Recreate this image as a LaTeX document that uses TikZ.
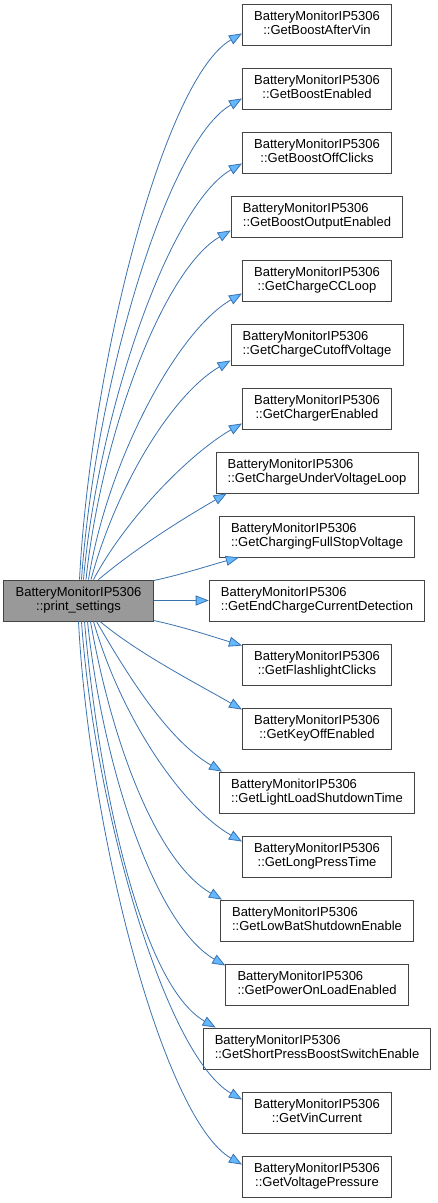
\documentclass[tikz,border=0pt]{standalone}
\usepackage{fontspec}
\setmainfont{Liberation Sans}
\usetikzlibrary{arrows.meta}
\definecolor{boxgray}{HTML}{444444}
\definecolor{srcgray}{HTML}{999999}
\definecolor{edgeblue}{HTML}{3A72B0}
\definecolor{arrowblue}{HTML}{63B8FF}
\newcommand\callee[1]{\begin{tabular}{@{}c@{}}\multicolumn{1}{@{}l@{}}{BatteryMonitorIP5306}\\#1\end{tabular}}
\tikzset{
  fnbox/.style={draw=boxgray, fill=white, line width=0.9pt, minimum height=41pt,
    minimum width=149pt, inner xsep=11.7pt, inner ysep=0pt,
    font=\fontsize{13}{14}\selectfont},
  srcbox/.style={fnbox, fill=srcgray},
  edge/.style={draw=edgeblue, line width=0.8pt,
    -{Triangle[length=13pt,width=10pt,fill=arrowblue]}}
}
\begin{document}
\begin{tikzpicture}[x=1pt,y=1pt]
\useasboundingbox (0,0) rectangle (437,-1203);
\node[srcbox] (src) at (78.5,-600.5) {\callee{::print\_settings}};
\node[fnbox] (t1) at (317,-24.5) {\callee{::GetBoostAfterVin}};
\node[fnbox] (t2) at (317,-88.5) {\callee{::GetBoostEnabled}};
\node[fnbox] (t3) at (317,-152.5) {\callee{::GetBoostOffClicks}};
\node[fnbox] (t4) at (317,-216.5) {\callee{::GetBoostOutputEnabled}};
\node[fnbox] (t5) at (317,-280.5) {\callee{::GetChargeCCLoop}};
\node[fnbox] (t6) at (317,-344.5) {\callee{::GetChargeCutoffVoltage}};
\node[fnbox] (t7) at (317,-408.5) {\callee{::GetChargerEnabled}};
\node[fnbox] (t8) at (317,-472.5) {\callee{::GetChargeUnderVoltageLoop}};
\node[fnbox] (t9) at (317,-536.5) {\callee{::GetChargingFullStopVoltage}};
\node[fnbox] (t10) at (317,-600.5) {\callee{::GetEndChargeCurrentDetection}};
\node[fnbox] (t11) at (317,-664.5) {\callee{::GetFlashlightClicks}};
\node[fnbox] (t12) at (317,-728.5) {\callee{::GetKeyOffEnabled}};
\node[fnbox] (t13) at (317,-792.5) {\callee{::GetLightLoadShutdownTime}};
\node[fnbox] (t14) at (317,-856.5) {\callee{::GetLongPressTime}};
\node[fnbox] (t15) at (317,-920.5) {\callee{::GetLowBatShutdownEnable}};
\node[fnbox] (t16) at (317,-984.5) {\callee{::GetPowerOnLoadEnabled}};
\node[fnbox] (t17) at (317,-1048.5) {\callee{::GetShortPressBoostSwitchEnable}};
\node[fnbox] (t18) at (317,-1112.5) {\callee{::GetVinCurrent}};
\node[fnbox] (t19) at (317,-1176.5) {\callee{::GetVoltagePressure}};
% upper edges
\draw[edge] ([xshift=1pt]src.north) .. controls +(87:215) and +(210:90) .. ([yshift=12pt]t1.south west);
\draw[edge] ([xshift=3pt]src.north) .. controls +(86:190) and +(210:88) .. ([yshift=11pt]t2.south west);
\draw[edge] ([xshift=5pt]src.north) .. controls +(85:165) and +(210:85) .. ([yshift=10pt]t3.south west);
\draw[edge] ([xshift=7.5pt]src.north) .. controls +(84:145) and +(210:78) .. ([yshift=7pt]t4.south west);
\draw[edge] ([xshift=10pt]src.north) .. controls +(81:120) and +(210:75) .. ([yshift=8pt]t5.south west);
\draw[edge] ([xshift=12.5pt]src.north) .. controls +(75:95) and +(210:68) .. ([yshift=5pt]t6.south west);
\draw[edge] ([xshift=15pt]src.north) .. controls +(62:70) and +(210:60) .. ([yshift=6pt]t7.south west);
\draw[edge] ([xshift=20pt]src.north) .. controls +(40:50) and +(210:50) .. ([xshift=11pt]t8.south west);
\draw[edge] ([yshift=-1pt]src.north east) .. controls +(12:30) and +(195:30) .. ([xshift=20pt]t9.south west);
\draw[edge] (src.east) -- (t10.west);
\draw[edge] ([yshift=1pt]src.south east) .. controls +(-12:30) and +(163:30) .. ([yshift=-2pt]t11.north west);
% lower edges
\draw[edge] ([xshift=21.5pt]src.south) .. controls +(-40:50) and +(150:50) .. ([yshift=-2pt]t12.north west);
\draw[edge] ([xshift=18pt]src.south) .. controls +(-60:70) and +(150:60) .. ([xshift=3pt]t13.north west);
\draw[edge] ([xshift=15pt]src.south) .. controls +(-74:100) and +(150:70) .. ([yshift=-6pt]t14.north west);
\draw[edge] ([xshift=12pt]src.south) .. controls +(-80:125) and +(150:75) .. ([xshift=2pt]t15.north west);
\draw[edge] ([xshift=9pt]src.south) .. controls +(-84:150) and +(150:80) .. ([yshift=-2pt]t16.north west);
\draw[edge] ([xshift=6pt]src.south) .. controls +(-85:170) and +(150:85) .. ([xshift=13pt]t17.north west);
\draw[edge] ([xshift=3pt]src.south) .. controls +(-86:190) and +(150:88) .. ([yshift=-8pt]t18.north west);
\draw[edge] (src.south) .. controls +(-87:215) and +(150:90) .. ([yshift=-9pt]t19.north west);
\end{tikzpicture}
\end{document}
